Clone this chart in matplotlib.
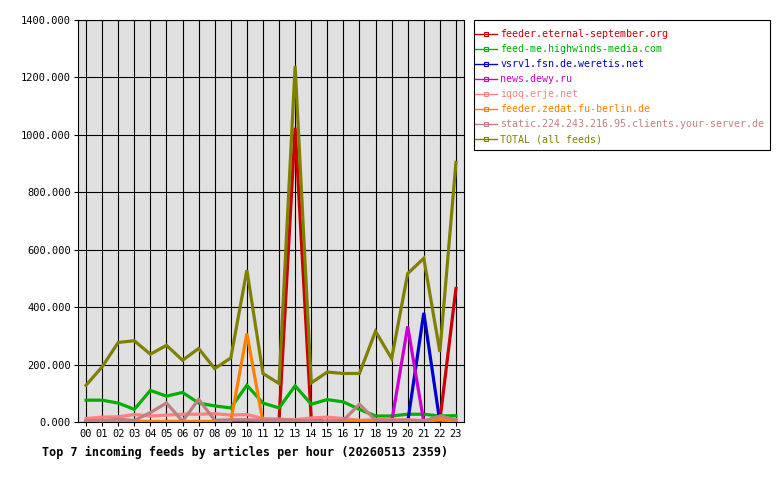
import numpy as np
import matplotlib
matplotlib.use("Agg")
import matplotlib.pyplot as plt
from matplotlib.lines import Line2D
from matplotlib.patches import Rectangle

# hourly article counts per feed
hours = ["%02d" % h for h in range(24)]

eternal = [0, 0, 0, 0, 0, 0, 0, 0, 0, 0, 0, 0, 5, 1025, 10, 0, 0, 0, 0, 0, 0, 0, 5, 465]
highwinds = [76, 76, 66, 44, 110, 90, 103, 66, 56, 49, 128, 66, 49, 126, 62, 78,
             70, 44, 21, 21, 27, 27, 21, 22]
weretis = [0, 0, 0, 0, 0, 0, 0, 0, 0, 0, 0, 0, 0, 0, 0, 0, 0, 0, 0, 0, 0, 380, 0, 0]
dewy = [0, 0, 0, 0, 0, 0, 0, 0, 0, 0, 2, 0, 0, 0, 0, 0, 0, 0, 0, 0, 333, 0, 0, 0]
erje = [12, 17, 18, 26, 21, 24, 27, 27, 29, 24, 26, 12, 10, 8, 14, 17,
        12, 6, 8, 8, 8, 5, 12, 8]
zedat = [2, 2, 2, 2, 2, 2, 2, 2, 2, 2, 308, 0, 3, 5, 3, 3, 3, 3, 3, 3, 3, 3, 8, 3]
yourserver = [5, 5, 10, 5, 33, 66, 3, 79, 6, 8, 8, 6, 8, 6, 3, 3,
              6, 62, 6, 6, 6, 3, 21, 8]
total = [128, 192, 277, 283, 236, 267, 215, 256, 186, 223, 529, 169, 134, 1240, 136, 174,
         169, 169, 316, 221, 517, 570, 244, 904]

names = ["feeder.eternal-september.org", "feed-me.highwinds-media.com",
         "vsrv1.fsn.de.weretis.net", "news.dewy.ru", "iqoq.erje.net",
         "feeder.zedat.fu-berlin.de", "static.224.243.216.95.clients.your-server.de",
         "TOTAL (all feeds)"]
series = [eternal, highwinds, weretis, dewy, erje, zedat, yourserver, total]
colors = ["#cc0000", "#00b000", "#0000cc", "#cc00cc", "#ff8080",
          "#ff8000", "#c08080", "#808000"]

plt.rcParams["font.family"] = ["DejaVu Sans Mono"]

fig = plt.figure(figsize=(7.8, 4.8), dpi=100)
ax = fig.add_axes([78 / 780, 1 - 422 / 480, (464 - 78) / 780, (422 - 20) / 480])
ax.set_facecolor("#e0e0e0")

x = np.arange(len(hours))
for vals, c in zip(series, colors):
    ax.plot(x, vals, color=c, lw=2.3, solid_joinstyle="miter", zorder=3)

ax.set_xlim(-0.5, 23.5)
ax.set_ylim(0, 1400)
ax.set_xticks(x)
ax.set_xticklabels(hours)
ax.set_yticks(np.arange(0, 1401, 200))
ax.yaxis.set_major_formatter(matplotlib.ticker.FormatStrFormatter("%.3f"))
ax.tick_params(labelsize=7.5, length=3, width=0.8, color="black", pad=2)
ax.grid(True, color="black", lw=0.8, zorder=1)
ax.set_axisbelow(True)
for s in ax.spines.values():
    s.set_color("black")
    s.set_linewidth(0.8)

# legend box drawn separately so padding can be matched
fig.patches.append(Rectangle((474 / 780, 1 - 150 / 480), (770 - 474) / 780, 130 / 480,
                             transform=fig.transFigure, facecolor="white",
                             edgecolor="black", lw=0.8, zorder=0))
handles = [Line2D([0], [0], color=c, lw=1, marker="s", markersize=3,
                  markerfacecolor="none", markeredgewidth=0.8) for c in colors]
leg = fig.legend(handles, names, loc="upper left",
                 bbox_to_anchor=(475 / 780, 1 - 29 / 480),
                 fontsize=7.2, labelcolor="linecolor", frameon=False,
                 handlelength=2.2, handletextpad=0.35, labelspacing=0.5,
                 borderpad=0, borderaxespad=0)

fig.text(42 / 780, 1 - 452 / 480, "Top 7 incoming feeds by articles per hour (20260513 2359)",
         fontsize=8.45, fontweight="bold", va="center", ha="left")

fig.savefig("out.png", dpi=100)
